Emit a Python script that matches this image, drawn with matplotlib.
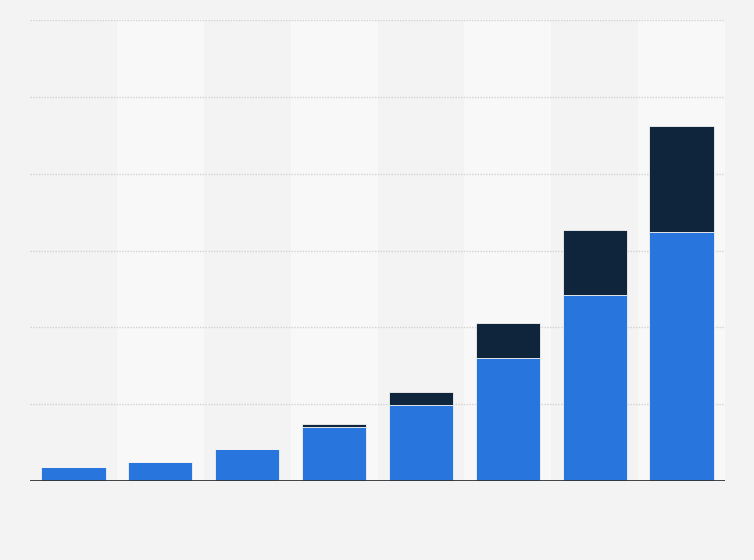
import matplotlib
matplotlib.use("Agg")
import matplotlib.pyplot as plt
import numpy as np

categories = ["1", "2", "3", "4", "5", "6", "7", "8"]
series_a = [1.8, 2.5, 4.2, 7.0, 9.9, 16.0, 24.2, 32.4]
series_b = [0.0, 0.0, 0.0, 0.4, 1.7, 4.6, 8.5, 13.8]
y_ticks = [0, 10, 20, 30, 40, 50, 60]

fig = plt.figure(figsize=(7.54, 5.60), dpi=100)
fig.patch.set_facecolor("#f3f3f3")
ax = fig.add_axes([30/754, 1-481/560, 695/754, 461/560])
ax.set_facecolor("#f3f3f3")

x = np.arange(len(categories))
for i in x:
    if i % 2 == 1:
        ax.axvspan(i - 0.5, i + 0.5, color="#f8f8f8", zorder=0, lw=0)

for t in y_ticks[1:]:
    ax.axhline(t, color="#d2d2d2", lw=1.0, ls=(0, (1, 1)), zorder=1)

w = 0.74
ax.bar(x, series_a, width=w, color="#2876dd", edgecolor="#f3f3f3", linewidth=0.6, zorder=3)
ax.bar(x, series_b, width=w, bottom=series_a, color="#0f253c", edgecolor="#f3f3f3", linewidth=0.6, zorder=3)

ax.axhline(0, color="#333333", lw=1.3, zorder=4)
ax.set_xlim(-0.5, len(categories) - 0.5)
ax.set_ylim(0, 60)
ax.set_xticks([])
ax.set_yticks([])
for s in ax.spines.values():
    s.set_visible(False)

fig.savefig("out.png", dpi=100, facecolor=fig.get_facecolor())
